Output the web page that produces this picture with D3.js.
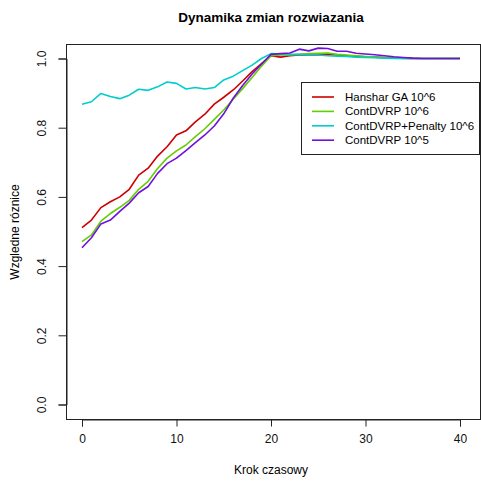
<!DOCTYPE html>
<html>
<head>
<meta charset="utf-8">
<script src="https://cdn.jsdelivr.net/npm/d3@7"></script>
<style>
	body { margin: 0; background: #fff; }
	svg { display: block; font-family: "Liberation Sans", Arial, sans-serif; }
</style>
</head>
<body>
<svg id="chart" width="481" height="482"></svg>
<script>

var steps = [0, 1, 2, 3, 4, 5, 6, 7, 8, 9, 10, 11, 12, 13, 14, 15, 16, 17, 18, 19, 20,
	21, 22, 23, 24, 25, 26, 27, 28, 29, 30, 31, 32, 33, 34, 35, 36, 37, 38, 39, 40];

var hanshar = [0.511, 0.533, 0.569, 0.586, 0.600, 0.622, 0.663, 0.683, 0.718, 0.745, 0.779,
	0.791, 0.817, 0.839, 0.868, 0.888, 0.909, 0.935, 0.962, 0.985, 1.008,
	1.004, 1.008, 1.010, 1.010, 1.010, 1.012, 1.010, 1.008, 1.006, 1.005,
	1.004, 1.003, 1.002, 1.001, 1.000, 1.000, 1.000, 1.000, 1.000, 1.000];

var cont6 = [0.471, 0.490, 0.530, 0.552, 0.570, 0.590, 0.622, 0.645, 0.682, 0.712, 0.733,
	0.750, 0.774, 0.797, 0.824, 0.851, 0.882, 0.913, 0.945, 0.978, 1.008,
	1.010, 1.010, 1.012, 1.014, 1.015, 1.016, 1.012, 1.010, 1.008, 1.006,
	1.004, 1.002, 1.001, 1.000, 1.000, 1.000, 1.000, 1.000, 1.000, 1.000];

var penalty6 = [0.868, 0.875, 0.899, 0.890, 0.884, 0.894, 0.911, 0.908, 0.918, 0.932, 0.928,
	0.912, 0.916, 0.912, 0.916, 0.938, 0.949, 0.965, 0.981, 1.000, 1.014,
	1.013, 1.012, 1.012, 1.010, 1.010, 1.008, 1.007, 1.006, 1.004, 1.003,
	1.002, 1.001, 1.000, 1.000, 1.000, 1.000, 1.000, 1.000, 1.000, 1.000];

var cont5 = [0.453, 0.482, 0.522, 0.533, 0.558, 0.582, 0.612, 0.630, 0.668, 0.696, 0.712,
	0.734, 0.757, 0.779, 0.805, 0.840, 0.885, 0.922, 0.955, 0.984, 1.012,
	1.014, 1.016, 1.027, 1.022, 1.030, 1.029, 1.021, 1.021, 1.015, 1.013,
	1.011, 1.008, 1.005, 1.003, 1.001, 1.000, 1.000, 1.000, 1.000, 1.000];

var names = ['Hanshar GA 10^6', 'ContDVRP 10^6', 'ContDVRP+Penalty 10^6', 'ContDVRP 10^5'];
var colors = ['#CD0000', '#66CD00', '#00CDCD', '#6E10DE'];
var xticks = [0, 10, 20, 30, 40];
var yticks = [0.0, 0.2, 0.4, 0.6, 0.8, 1.0];

var series = [hanshar, cont6, penalty6, cont5];

var svg = d3.select('#chart');
var box = { left: 66.5, top: 44.5, right: 480.5, bottom: 419.5 };

var x = d3.scaleLinear().domain([0, 40]).range([82, 460]);
var y = d3.scaleLinear().domain([0, 1]).range([404.5, 58.5]);

// title
svg.append('text')
	.attr('x', 271).attr('y', 22)
	.attr('text-anchor', 'middle')
	.style('font-size', '13.5px').style('font-weight', 'bold')
	.text('Dynamika zmian rozwiazania');

// lines
var line = d3.line()
	.x(function(d, i) { return x(steps[i]); })
	.y(function(d) { return y(d); });

series.forEach(function(s, i) {
	svg.append('path')
		.datum(s)
		.attr('d', line)
		.attr('fill', 'none')
		.attr('stroke', colors[i])
		.attr('stroke-width', 1.6)
		.attr('stroke-linejoin', 'round');
});

// plot frame
svg.append('rect')
	.attr('x', box.left).attr('y', box.top)
	.attr('width', box.right - box.left).attr('height', box.bottom - box.top)
	.attr('fill', 'none').attr('stroke', '#222').attr('stroke-width', 1);

// axes
var xAxis = d3.axisBottom(x).tickValues(xticks).tickSize(7).tickPadding(8).tickFormat(d3.format('d'));
var gx = svg.append('g').attr('transform', 'translate(0,' + box.bottom + ')').call(xAxis);
gx.select('.domain').attr('stroke', '#222');
gx.selectAll('.tick line').attr('stroke', '#222');
gx.selectAll('text').style('font-size', '12px').style('font-family', '"Liberation Sans", Arial, sans-serif').attr('fill', '#111');

var yAxis = d3.axisLeft(y).tickValues(yticks).tickSize(8).tickPadding(0).tickFormat(d3.format('.1f'));
var gy = svg.append('g').attr('transform', 'translate(' + box.left + ',0)').call(yAxis);
gy.select('.domain').attr('stroke', '#222');
gy.selectAll('.tick line').attr('stroke', '#222');
gy.selectAll('text')
	.style('font-size', '12px').style('font-family', '"Liberation Sans", Arial, sans-serif').attr('fill', '#111')
	.attr('x', null).attr('dy', null)
	.attr('text-anchor', 'middle')
	.attr('transform', 'translate(-21,0) rotate(-90)');

// axis titles
svg.append('text')
	.attr('x', 271).attr('y', 474)
	.attr('text-anchor', 'middle')
	.style('font-size', '12px')
	.text('Krok czasowy');

svg.append('text')
	.attr('transform', 'translate(19,232) rotate(-90)')
	.attr('text-anchor', 'middle')
	.style('font-size', '12px')
	.text('Wzgledne róznice');

// legend
var leg = svg.append('g');
leg.append('rect')
	.attr('x', 301.5).attr('y', 82.5).attr('width', 178).attr('height', 72)
	.attr('fill', '#fff').attr('stroke', '#222');

names.forEach(function(n, i) {
	var ly = 97 + i * 14.4;
	leg.append('line')
		.attr('x1', 312).attr('x2', 334).attr('y1', ly).attr('y2', ly)
		.attr('stroke', colors[i]).attr('stroke-width', 1.6);
	leg.append('text')
		.attr('x', 345).attr('y', ly + 4)
		.style('font-size', '11.5px')
		.text(n);
});

</script>
</body>
</html>
